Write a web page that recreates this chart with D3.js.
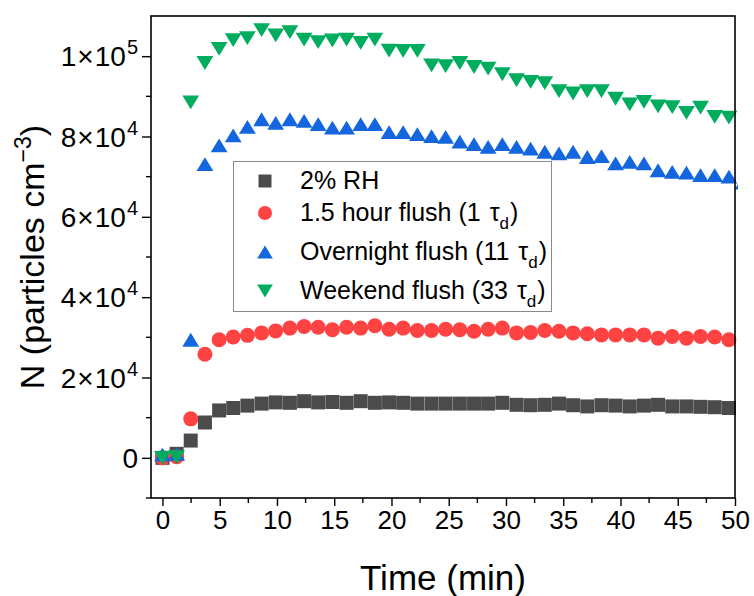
<!DOCTYPE html>
<html>
<head>
<meta charset="utf-8">
<script src="https://cdn.jsdelivr.net/npm/d3@7"></script>
<style>
  body { margin: 0; background: #fff; }
  svg text { font-family: Arial, "Liberation Sans", sans-serif; fill: #000; }
</style>
</head>
<body>
<svg id="chart" width="754" height="596"></svg>
<script>

// Sample times (min), one per scan
var times = [0, 1.24, 2.47, 3.71, 4.95, 6.18, 7.42, 8.66, 9.89, 11.13,
  12.37, 13.6, 14.84, 16.08, 17.31, 18.55, 19.79, 21.02, 22.26, 23.5,
  24.73, 25.97, 27.21, 28.44, 29.68, 30.92, 32.15, 33.39, 34.63, 35.86,
  37.1, 38.34, 39.57, 40.81, 42.05, 43.28, 44.52, 45.76, 46.99, 48.23,
  49.47, 50.7];

// N (particles cm-3) per series
var rh2 = [0, 1000, 4300, 8800, 11800, 12400, 13000, 13500, 13800, 13700,
  14100, 13800, 13900, 13700, 14100, 13700, 13800, 13700, 13500, 13500,
  13500, 13500, 13500, 13500, 13700, 13200, 13100, 13200, 13500, 13100,
  12800, 13100, 13000, 12800, 13000, 13200, 12800, 12800, 12700, 12600,
  12400];

var flush1 = [0, 300, 9700, 25800, 29400, 30100, 30500, 31100, 31600, 32300,
  32700, 32500, 31900, 32500, 32300, 32900, 32000, 32300, 31700, 31700,
  32000, 31900, 31500, 32000, 32300, 31100, 31200, 31700, 31500, 31100,
  30900, 30600, 30600, 30600, 30600, 29800, 30200, 29800, 30200, 30100,
  29400];

var flush11 = [800, 1000, 29400, 73100, 77800, 80300, 82400, 84300, 83400, 84300,
  83900, 83100, 82200, 82200, 83100, 83100, 81100, 81100, 80600, 80100,
  79900, 78700, 78100, 77400, 78100, 77400, 77000, 76200, 75800, 76200,
  74900, 75100, 73300, 73700, 73300, 71600, 71200, 71000, 70400, 70400,
  70000, 68500];

var flush33 = [0, 200, 88500, 98300, 101800, 104000, 104500, 106500, 105200, 106000,
  104100, 103500, 103900, 104100, 103300, 104100, 101400, 101300, 101300, 97700,
  97500, 98300, 97300, 96900, 95500, 94000, 93600, 93300, 91300, 90700,
  91300, 91300, 89400, 88000, 88600, 87500, 87300, 85900, 87200, 84900,
  84700];

var seriesNames = ["2% RH", "1.5 hour flush (1 ", "Overnight flush (11 ", "Weekend flush (33 "];
var seriesColors = ["#4b4b4b", "#ff4242", "#1366dd", "#00ad5f"];
var seriesShapes = ["square", "circle", "up", "down"];
var seriesValues = [rh2, flush1, flush11, flush33];

var xTicks = [0, 5, 10, 15, 20, 25, 30, 35, 40, 45, 50];
var xMinorTicks = [2.5, 7.5, 12.5, 17.5, 22.5, 27.5, 32.5, 37.5, 42.5, 47.5];
var yTicks = [0, 20000, 40000, 60000, 80000, 100000];
var yMinorTicks = [-10000, 10000, 30000, 50000, 70000, 90000];

(function(d3) {

  // Plot frame
  var pLeft = 151, pRight = 735, pTop = 16, pBottom = 498;

  var svg = d3.select("#chart");

  var x = d3.scaleLinear()
    .domain([-1, 50])
    .range([pLeft, pRight])
    ;

  var y = d3.scaleLinear()
    .domain([-10000, 110000])
    .range([pBottom, pTop])
    ;

  // Marker path centred on its bounding box
  function markerPath(shape, s) {
    var h = s / 2;
    if (shape === "square") return "M" + (-h) + "," + (-h) + "h" + s + "v" + s + "h" + (-s) + "Z";
    if (shape === "circle") return d3.symbol(d3.symbolCircle, Math.PI * h * h)();
    var w = s * 0.56, t = s * 0.46;
    if (shape === "up") return "M0," + (-t) + "L" + w + "," + t + "L" + (-w) + "," + t + "Z";
    return "M0," + t + "L" + w + "," + (-t) + "L" + (-w) + "," + (-t) + "Z";
  }

  var markerSizes = { square: 14, circle: 15, up: 15, down: 15 };

  // Clip for markers
  svg.append("clipPath")
    .attr("id", "plot-clip")
    .append("rect")
    .attr("x", pLeft)
    .attr("y", pTop)
    .attr("width", pRight - pLeft + 3)
    .attr("height", pBottom - pTop)
    ;

  var plot = svg.append("g")
    .attr("clip-path", "url(#plot-clip)")
    ;

  seriesValues.forEach(function(vals, si) {
    plot.append("g")
      .selectAll("path")
      .data(vals)
      .enter()
      .append("path")
      .attr("d", markerPath(seriesShapes[si], markerSizes[seriesShapes[si]]))
      .attr("transform", function(d, i) { return "translate(" + x(times[i]) + "," + y(d) + ")"; })
      .attr("fill", seriesColors[si])
      ;
  });

  // Frame
  svg.append("rect")
    .attr("x", pLeft)
    .attr("y", pTop)
    .attr("width", pRight - pLeft)
    .attr("height", pBottom - pTop)
    .attr("fill", "none")
    .attr("stroke", "#000")
    .attr("stroke-width", 1.6)
    ;

  // X axis
  var xAxis = svg.append("g")
    .attr("transform", "translate(0," + pBottom + ")")
    .call(d3.axisBottom(x).tickValues(xTicks).tickSize(8).tickSizeOuter(0).tickPadding(5))
    ;
  xAxis.select(".domain").remove();
  xAxis.selectAll("line").attr("stroke-width", 1.4);
  xAxis.selectAll("text")
    .attr("font-size", 26)
    .attr("font-family", "Arial, 'Liberation Sans', sans-serif")
    ;

  svg.append("g")
    .selectAll("line")
    .data(xMinorTicks)
    .enter()
    .append("line")
    .attr("x1", function(d) { return x(d); })
    .attr("x2", function(d) { return x(d); })
    .attr("y1", pBottom)
    .attr("y2", pBottom + 5)
    .attr("stroke", "#000")
    .attr("stroke-width", 1.4)
    ;

  // Y axis
  var yAxis = svg.append("g")
    .attr("transform", "translate(" + pLeft + ",0)")
    .call(d3.axisLeft(y).tickValues(yTicks).tickSize(9).tickSizeOuter(0).tickFormat(""))
    ;
  yAxis.select(".domain").remove();
  yAxis.selectAll("line").attr("stroke-width", 1.4);

  svg.append("g")
    .selectAll("line")
    .data(yMinorTicks)
    .enter()
    .append("line")
    .attr("x1", pLeft - 5)
    .attr("x2", pLeft)
    .attr("y1", function(d) { return y(d); })
    .attr("y2", function(d) { return y(d); })
    .attr("stroke", "#000")
    .attr("stroke-width", 1.4)
    ;

  // Y tick labels in scientific form
  var yLabels = svg.append("g")
    .selectAll("text")
    .data(yTicks)
    .enter()
    .append("text")
    .attr("x", pLeft - 13)
    .attr("y", function(d) { return y(d) + 10; })
    .attr("text-anchor", "end")
    .attr("font-size", 28)
    ;
  yLabels.each(function(d) {
    var t = d3.select(this);
    if (d === 0) { t.text("0"); return; }
    var exp = Math.floor(Math.log10(d));
    var mant = d / Math.pow(10, exp);
    t.append("tspan").text(mant);
    t.append("tspan").attr("dx", 1).text("\u00d7");
    t.append("tspan").attr("dx", 1).text("10");
    t.append("tspan").attr("dy", -12).attr("dx", 1).attr("font-size", 20).text(exp);
  });

  // Axis titles
  svg.append("text")
    .attr("x", (pLeft + pRight) / 2)
    .attr("y", 590)
    .attr("text-anchor", "middle")
    .attr("font-size", 35)
    .text("Time (min)")
    ;

  var yTitle = svg.append("text")
    .attr("transform", "translate(44,257) rotate(-90)")
    .attr("text-anchor", "middle")
    .attr("font-size", 34)
    ;
  yTitle.append("tspan").text("N (particles cm");
  yTitle.append("tspan").attr("dy", -13).attr("font-size", 23).text("\u22123");
  yTitle.append("tspan").attr("dy", 13).text(")");

  // Legend
  var legend = svg.append("g");
  legend.append("rect")
    .attr("x", 233.5)
    .attr("y", 161.5)
    .attr("width", 318)
    .attr("height", 150)
    .attr("fill", "#fff")
    .attr("stroke", "#8a8a8a")
    .attr("stroke-width", 1)
    ;

  var rowY = [181, 213, 252, 291];
  seriesNames.forEach(function(name, i) {
    legend.append("path")
      .attr("d", markerPath(seriesShapes[i], markerSizes[seriesShapes[i]] - 1))
      .attr("transform", "translate(265," + rowY[i] + ")")
      .attr("fill", seriesColors[i])
      ;
    var t = legend.append("text")
      .attr("x", 300)
      .attr("y", rowY[i] + 8)
      .attr("font-size", 25)
      ;
    t.append("tspan").text(name);
    if (i > 0) {
      t.append("tspan").attr("dx", 2).text("\u03c4");
      t.append("tspan").attr("dy", 8).attr("font-size", 17).text("d");
      t.append("tspan").attr("dy", -8).attr("dx", 1).text(")");
    }
  });

})(d3);

</script>
</body>
</html>
